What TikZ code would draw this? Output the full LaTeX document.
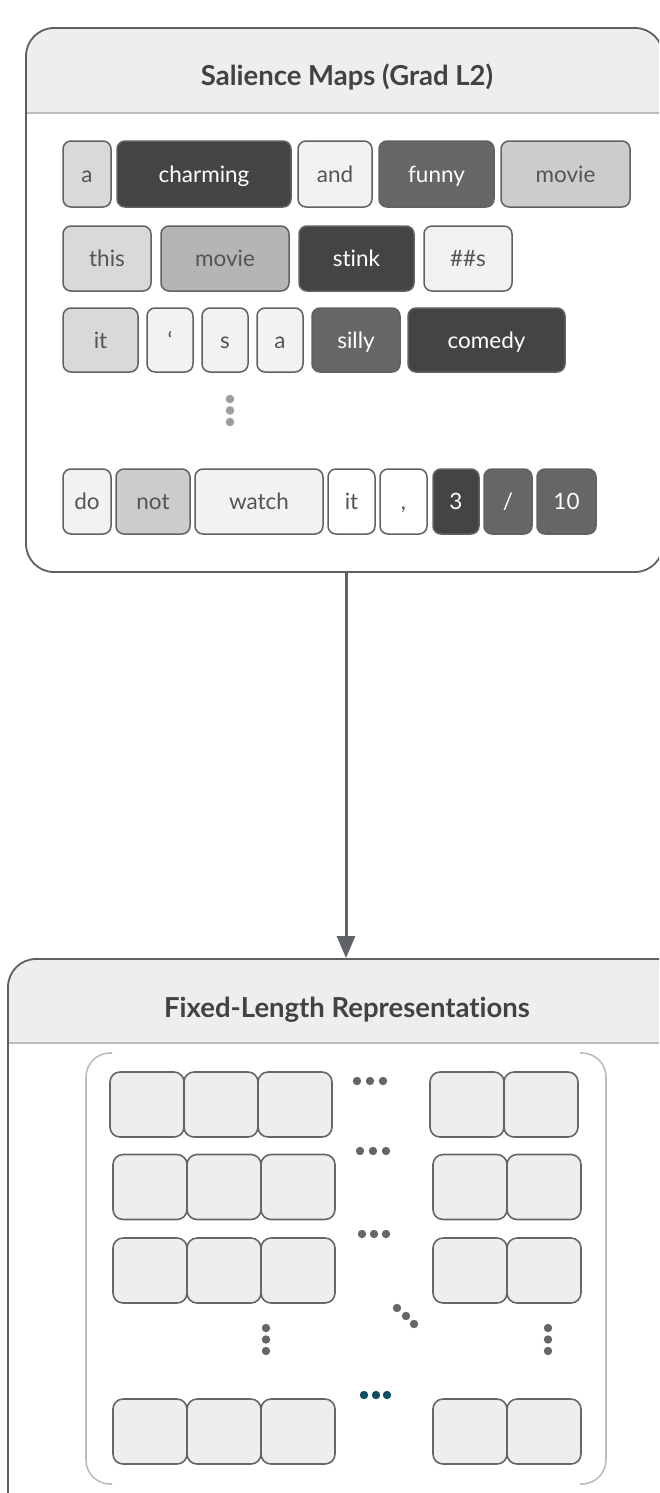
\documentclass[tikz,border=0pt]{standalone}
\usepackage{fontspec}
\setmainfont{Lato}[Ligatures=NoCommon]
\usetikzlibrary{arrows.meta}
\definecolor{paneledge}{HTML}{5F5F5F}
\definecolor{hdr}{HTML}{EEEEEE}
\definecolor{sep}{HTML}{BDBDBD}
\definecolor{titlec}{HTML}{424242}
\definecolor{tokedge}{HTML}{616161}
\definecolor{txtlight}{HTML}{555555}
\definecolor{gA}{HTML}{444444}
\definecolor{gB}{HTML}{666666}
\definecolor{gC}{HTML}{B5B5B5}
\definecolor{gD}{HTML}{CCCCCC}
\definecolor{gE}{HTML}{D9D9D9}
\definecolor{gF}{HTML}{F2F2F2}
\definecolor{gW}{HTML}{FFFFFF}
\definecolor{cellfill}{HTML}{EEEEEE}
\definecolor{celledge}{HTML}{666666}
\definecolor{dotc}{HTML}{666666}
\definecolor{dotl}{HTML}{9E9E9E}
\definecolor{teal}{HTML}{0D4F5F}
\definecolor{arrc}{HTML}{5F6368}
\tikzset{
  tok/.style={draw=tokedge, line width=1.5pt, rounded corners=8pt, inner sep=0pt,
    font=\fontsize{22.5}{26}\selectfont, text=txtlight, text height=16pt, text depth=0pt},
  dk/.style={tok, text=white},
  cell/.style={draw=celledge, fill=cellfill, line width=1.6pt, rounded corners=10pt,
    inner sep=0pt, minimum width=74pt, minimum height=65pt},
  panel/.style={draw=paneledge, line width=1.8pt, rounded corners=28pt, inner sep=0pt},
  ptitle/.style={font=\fontsize{27.5}{30}\selectfont\bfseries, text=titlec, anchor=base},
  brk/.style={draw=sep, line width=1.6pt},
  arr/.style={draw=arrc, line width=3pt, -{Triangle[width=18pt,length=22pt]}},
}
\begin{document}
\begin{tikzpicture}[x=1pt,y=-1pt]
\useasboundingbox (0,0) rectangle (659,1493);
\clip (0,0) rectangle (659,1493);
% ---------- top panel ----------
\begin{scope}
  \clip (0,0) rectangle (700,113);
  \fill[hdr, rounded corners=28pt] (26,28) rectangle (663,572);
\end{scope}
\draw[draw=sep, line width=1.5pt] (26,113) -- (663,113);
\node[panel, minimum width=637pt, minimum height=544pt] (top) at (344.5,300) {};
\node[ptitle] (toptitle) at (347,86) {Salience Maps (Grad L2)};
% row 1
\node[tok, fill=gE, minimum width=48pt,  minimum height=66pt] (r1a) at (87,174) {a};
\node[dk,  fill=gA, minimum width=174pt, minimum height=66pt] (r1b) at (204,174) {charming};
\node[tok, fill=gF, minimum width=74pt,  minimum height=66pt] (r1c) at (335,174) {and};
\node[dk,  fill=gB, minimum width=115pt, minimum height=66pt] (r1d) at (436.5,174) {funny};
\node[tok, fill=gD, minimum width=129pt, minimum height=66pt] (r1e) at (565.5,174) {movie};
% row 2
\node[tok, fill=gE, minimum width=88pt,  minimum height=65pt] (r2a) at (107,258.5) {this};
\node[tok, fill=gC, minimum width=128pt, minimum height=65pt] (r2b) at (225,258.5) {movie};
\node[dk,  fill=gA, minimum width=115pt, minimum height=65pt] (r2c) at (356.5,258.5) {stink};
\node[tok, fill=gF, minimum width=88pt,  minimum height=65pt] (r2d) at (468,258.5) {\#\#s};
% row 3
\node[tok, fill=gE, minimum width=75pt,  minimum height=64pt] (r3a) at (100.5,340) {it};
\node[tok, fill=gF, minimum width=46pt,  minimum height=64pt] (r3b) at (170,340) {‘};
\node[tok, fill=gF, minimum width=46pt,  minimum height=64pt] (r3c) at (225,340) {s};
\node[tok, fill=gF, minimum width=46pt,  minimum height=64pt] (r3d) at (280,340) {a};
\node[dk,  fill=gB, minimum width=88pt,  minimum height=64pt] (r3e) at (356,340) {silly};
\node[dk,  fill=gA, minimum width=157pt, minimum height=64pt] (r3f) at (486.5,340) {comedy};
% vertical dots
\foreach \yy in {399,410.5,422} \fill[dotl] (230,\yy) circle (4.3pt);
% row 4
\node[tok, fill=gF, minimum width=48pt,  minimum height=65pt] (r4a) at (87,501.5) {do};
\node[tok, fill=gD, minimum width=74pt,  minimum height=65pt] (r4b) at (153,501.5) {not};
\node[tok, fill=gF, minimum width=128pt, minimum height=65pt] (r4c) at (259,501.5) {watch};
\node[tok, fill=gW, minimum width=47pt,  minimum height=65pt] (r4d) at (351.5,501.5) {it};
\node[tok, fill=gW, minimum width=47pt,  minimum height=65pt] (r4e) at (403.5,501.5) {,};
\node[dk,  fill=gA, minimum width=46pt,  minimum height=65pt] (r4f) at (456,501.5) {3};
\node[dk,  fill=gB, minimum width=48pt,  minimum height=65pt] (r4g) at (508,501.5) {/};
\node[dk,  fill=gB, minimum width=59pt,  minimum height=65pt] (r4h) at (566.5,501.5) {10};
% ---------- bottom panel ----------
\begin{scope}
  \clip (0,900) rectangle (700,1043);
  \fill[hdr, rounded corners=28pt] (8,959) rectangle (684,1530);
\end{scope}
\draw[draw=sep, line width=1.5pt] (8,1043) -- (684,1043);
\node[panel, minimum width=676pt, minimum height=571pt] (bot) at (346,1244.5) {};
\node[ptitle] (bottitle) at (347,1017) {Fixed-Length Representations};
% bracket
\draw[brk, rounded corners=24pt] (112,1053) -- (86,1053) -- (86,1484) -- (112,1484);
\draw[brk, rounded corners=24pt] (580,1053) -- (606,1053) -- (606,1484) -- (580,1484);
% cells
\foreach \n/\cx in {1/147,2/221,3/295,4/467,5/541}
  \node[cell] (cA\n) at (\cx,1104.5) {};
\foreach \n/\cx in {1/150,2/224,3/298,4/470,5/544}{
  \node[cell] (cB\n) at (\cx,1187) {};
  \node[cell] (cC\n) at (\cx,1270.5) {};
  \node[cell] (cD\n) at (\cx,1431.5) {};
}
% ellipses
\foreach \xx in {357,370,383} \fill[dotc] (\xx,1081) circle (4.2pt);
\foreach \xx in {360,373,386} \fill[dotc] (\xx,1151) circle (4.2pt);
\foreach \xx in {362,374,386} \fill[dotc] (\xx,1234) circle (4.2pt);
\foreach \xx/\yy in {397/1308,406/1316,414/1324} \fill[dotc] (\xx,\yy) circle (4.2pt);
\foreach \yy in {1328,1339.5,1351} {\fill[dotc] (266,\yy) circle (4.2pt); \fill[dotc] (548,\yy) circle (4.2pt);}
\foreach \xx in {364,376,387} \fill[teal] (\xx,1395) circle (4.2pt);
% ---------- connector ----------
\coordinate (ax) at (346,0);
\draw[arr] (top.south -| ax) -- (bot.north -| ax);
\end{tikzpicture}
\end{document}
